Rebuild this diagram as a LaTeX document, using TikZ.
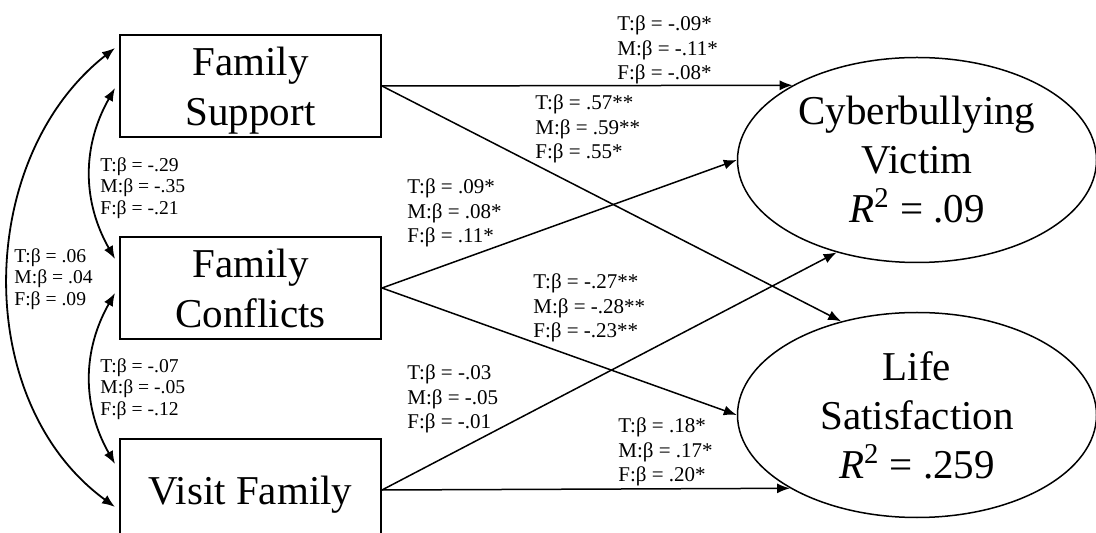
\documentclass[tikz,border=0pt]{standalone}
\usepackage{fontspec}
\setmainfont{Liberation Serif}
\usetikzlibrary{shapes.geometric, arrows.meta, positioning}

\begin{document}
\begin{tikzpicture}[
    x=0.5pt, y=-0.5pt,
    node distance=49pt,
    factor/.style={rectangle, draw, line width=1pt, minimum width=130.5pt, minimum height=51pt, inner sep=0pt, align=center, text depth=0pt, font=\fontsize{20.5}{25}\selectfont},
    outcome/.style={ellipse, draw, line width=0.75pt, minimum width=179.5pt, minimum height=102.5pt, inner sep=0pt, align=center, font=\fontsize{20.5}{24.5}\selectfont},
    coef/.style={anchor=west, inner sep=0pt, align=left, font=\fontsize{10.5}{12.2}\selectfont},
    cov/.style={anchor=west, inner sep=0pt, align=left, font=\fontsize{9.8}{10.7}\selectfont},
    arrow/.style={->, >={Latex[length=6.5pt,width=5pt]}, line width=0.75pt},
    twoway/.style={<->, >={Latex[length=6.5pt,width=5pt]}, line width=0.9pt}
]
    \clip (0,0) rectangle (1096,533);

    \node[factor] (support) at (250.5,86) {Family\\Support};
    \node[factor, below=of support] (conflicts) {Family\\Conflicts};
    \node[factor, below=of conflicts] (visit) {Visit Family};
    \node[outcome] (victim) at (917,160) {Cyberbullying\\Victim\\\textit{R}\textsuperscript{2} = .09};
    \node[outcome] (life) at (917,415) {Life\\Satisfaction\\\textit{R}\textsuperscript{2} = .259};

    % paths to outcomes
    \draw[arrow] (support.east) -- (victim.149);
    \draw[arrow] (support.east) -- (life.129);
    \draw[arrow] (conflicts.east) -- (victim.west);
    \draw[arrow] (conflicts.east) -- (life.west);
    \draw[arrow] (visit.east) -- (victim.229);
    \draw[arrow] (visit.east) -- (life.210);

    % correlations between predictors
    \draw[twoway] ([xshift=-2pt,yshift=-7pt]support.north west) .. controls +(-140,110) and +(-144,-105) .. ([xshift=-2pt,yshift=-34.5pt]visit.north west);
    \draw[twoway] ([xshift=-2pt,yshift=-1pt]support.west) .. controls +(-33,58) and +(-33,-58) .. ([xshift=-2pt,yshift=-11.5pt]conflicts.north west);
    \draw[twoway] ([xshift=-2pt,yshift=-2.5pt]conflicts.west) .. controls +(-33,58) and +(-33,-58) .. ([xshift=-2pt,yshift=-13pt]visit.north west);

    \node[coef] (b-sup-vic) at (617,50) {T:β = -.09*\\M:β = -.11*\\F:β = -.08*};
    \node[coef] (b-sup-life) at (535,129) {T:β = .57**\\M:β = .59**\\F:β = .55*};
    \node[coef] (b-con-vic) at (407,213) {T:β = .09*\\M:β = .08*\\F:β = .11*};
    \node[coef] (b-con-life) at (533,308) {T:β = -.27**\\M:β = -.28**\\F:β = -.23**};
    \node[coef] (b-vis-vic) at (407,399) {T:β = -.03\\M:β = -.05\\F:β = -.01};
    \node[coef] (b-vis-life) at (618,452) {T:β = .18*\\M:β = .17*\\F:β = .20*};
    \node[cov] (r-sup-con) at (100,188) {T:β = -.29\\M:β = -.35\\F:β = -.21};
    \node[cov] (r-sup-vis) at (14,279) {T:β = .06\\M:β = .04\\F:β = .09};
    \node[cov] (r-con-vis) at (100,389) {T:β = -.07\\M:β = -.05\\F:β = -.12};
\end{tikzpicture}
\end{document}
